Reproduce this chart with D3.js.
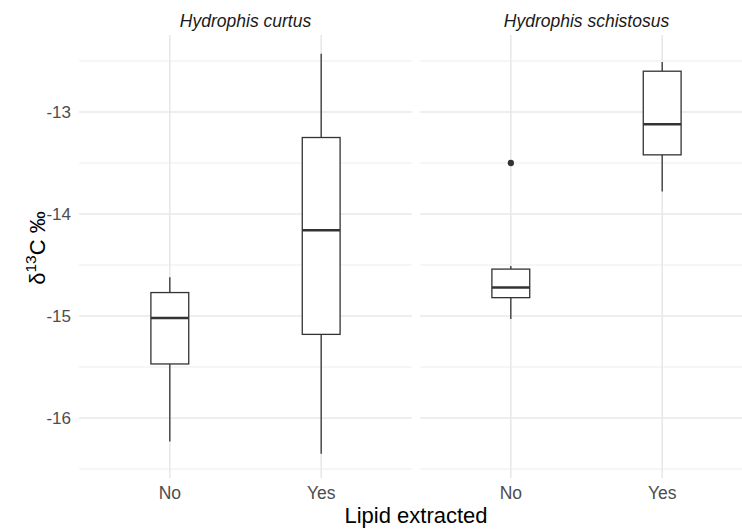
<!DOCTYPE html>
<html>
<head>
<meta charset="utf-8">
<script src="https://cdn.jsdelivr.net/npm/d3@7"></script>
<style>
  body { margin: 0; background: #fff; }
  text { font-family: "Liberation Sans", Arial, sans-serif; }
</style>
</head>
<body>
<svg id="chart" width="742" height="529"></svg>
<script>
// facets and categories
var species = ["Hydrophis curtus", "Hydrophis schistosus"];
var groups = ["No", "Yes"];
var yTicks = [-13, -14, -15, -16];

// box stats: [lower whisker, Q1, median, Q3, upper whisker]
var curtusNo = [-16.23, -15.47, -15.02, -14.77, -14.62];
var curtusYes = [-16.35, -15.18, -14.16, -13.25, -12.43];
var schistNo = [-15.03, -14.82, -14.72, -14.54, -14.51];
var schistYes = [-13.78, -13.42, -13.12, -12.6, -12.51];
var outliers = [{sp: "Hydrophis schistosus", g: "No", v: -13.5}];

var boxes = [
  {sp: species[0], g: "No", s: curtusNo},
  {sp: species[0], g: "Yes", s: curtusYes},
  {sp: species[1], g: "No", s: schistNo},
  {sp: species[1], g: "Yes", s: schistYes}
];

var svg = d3.select("#chart");
var pTop = 35, pBottom = 478, panelW = 333, gap = 8, left0 = 79;

var y = d3.scaleLinear().domain([-16.588, -12.245]).range([pBottom, pTop]);

// one panel per species
species.forEach(function(sp, i) {
  var x0 = left0 + i * (panelW + gap);
  var x = d3.scalePoint().domain(groups).range([x0, x0 + panelW]).padding(0.6);
  var bw = x.step() * 0.25;
  var g = svg.append("g");

  // minor grid
  d3.range(-16.5, -12.4, 1).forEach(function(v) {
    g.append("line").attr("x1", x0).attr("x2", x0 + panelW)
      .attr("y1", y(v)).attr("y2", y(v))
      .attr("stroke", "#ededed").attr("stroke-width", 1);
  });
  // major grid
  yTicks.forEach(function(v) {
    g.append("line").attr("x1", x0).attr("x2", x0 + panelW)
      .attr("y1", y(v)).attr("y2", y(v))
      .attr("stroke", "#e8e8e8").attr("stroke-width", 1.6);
  });
  groups.forEach(function(c) {
    g.append("line").attr("x1", x(c)).attr("x2", x(c))
      .attr("y1", pTop).attr("y2", pBottom)
      .attr("stroke", "#e8e8e8").attr("stroke-width", 1.6);
    g.append("text").attr("x", x(c)).attr("y", 499)
      .attr("text-anchor", "middle").attr("font-size", 17.5)
      .attr("fill", "#4d4d4d").text(c);
  });

  // strip label
  g.append("text").attr("x", x0 + panelW / 2).attr("y", 27)
    .attr("text-anchor", "middle").attr("font-size", 17.5)
    .attr("font-style", "italic").attr("fill", "#1a1a1a").text(sp);

  // boxplots
  boxes.filter(function(b) { return b.sp === sp; }).forEach(function(b) {
    var cx = x(b.g), s = b.s;
    g.append("line").attr("x1", cx).attr("x2", cx)
      .attr("y1", y(s[0])).attr("y2", y(s[1]))
      .attr("stroke", "#333").attr("stroke-width", 1.3);
    g.append("line").attr("x1", cx).attr("x2", cx)
      .attr("y1", y(s[3])).attr("y2", y(s[4]))
      .attr("stroke", "#333").attr("stroke-width", 1.3);
    g.append("rect").attr("x", cx - bw / 2).attr("width", bw)
      .attr("y", y(s[3])).attr("height", y(s[1]) - y(s[3]))
      .attr("fill", "#fff").attr("stroke", "#333").attr("stroke-width", 1.3);
    g.append("line").attr("x1", cx - bw / 2).attr("x2", cx + bw / 2)
      .attr("y1", y(s[2])).attr("y2", y(s[2]))
      .attr("stroke", "#333").attr("stroke-width", 2.5);
  });

  outliers.filter(function(o) { return o.sp === sp; }).forEach(function(o) {
    g.append("circle").attr("cx", x(o.g)).attr("cy", y(o.v)).attr("r", 3.2)
      .attr("fill", "#333");
  });
});

// y tick labels
yTicks.forEach(function(v) {
  svg.append("text").attr("x", 71).attr("y", y(v)).attr("dy", "0.36em")
    .attr("text-anchor", "end").attr("font-size", 17)
    .attr("fill", "#4d4d4d").text(v);
});

// axis titles
svg.append("text").attr("x", 416).attr("y", 523)
  .attr("text-anchor", "middle").attr("font-size", 22)
  .attr("fill", "#000").text("Lipid extracted");

var yt = svg.append("text")
  .attr("transform", "translate(45,248) rotate(-90)")
  .attr("text-anchor", "middle").attr("font-size", 22).attr("fill", "#000");
yt.append("tspan").text("\u03b4");
yt.append("tspan").attr("font-size", 15.5).attr("dy", -9).text("13");
yt.append("tspan").attr("dy", 9).text("C \u2030");
</script>
</body>
</html>
